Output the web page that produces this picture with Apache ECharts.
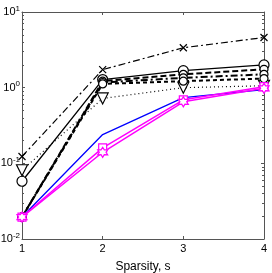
<!DOCTYPE html>
<html><head><meta charset="utf-8">
<script src="https://cdn.jsdelivr.net/npm/echarts@6/dist/echarts.min.js"></script>
<style>html,body{margin:0;padding:0;background:#fff}#c{width:272px;height:273px}</style>
</head><body><div id="c"></div>
<script>
const sparsity = [1, 2, 3, 4];
const xTicks = ['1', '2', '3', '4'];
const serX = [0.123, 1.73, 3.37, 4.6];
const serCircleSolid = [0.058, 1.28, 1.68, 2.0];
const serTriDotted = [0.081, 0.72, 1.0, 1.06];
const serDashA = [0.0195, 1.22, 1.5, 1.75];
const serDashDotB = [0.0195, 1.17, 1.35, 1.5];
const serDashC = [0.0195, 1.12, 1.22, 1.32];
const serBlue = [0.0195, 0.24, 0.74, 0.94];
const serMagSquare = [0.0195, 0.16, 0.69, 1.03];
const serMagStar = [0.0195, 0.14, 0.65, 0.98];

const pts = a => a.map((v, i) => [sparsity[i], v]);
const font = 'Liberation Sans, Arial, sans-serif';
const XPATH = 'path://M0,0L10,10M10,0L0,10';
const STAR = 'path://M5,0L6.4,2.6L9.3,2.5L7.9,5L9.3,7.5L6.4,7.4L5,10L3.6,7.4L0.7,7.5L2.1,5L0.7,2.5L3.6,2.6Z';

function s(data, color, width, type, symbol, size, extra) {
  return Object.assign({
    type: 'line', data: pts(data), symbol: symbol || 'none', symbolSize: size || 8,
    lineStyle: {color: color, width: width, type: type},
    itemStyle: {color: '#fff', borderColor: color, borderWidth: 1.2},
    emphasis: {disabled: true}, animation: false, z: 3
  }, extra || {});
}

const chart = echarts.init(document.getElementById('c'), null, {renderer: 'canvas'});
chart.setOption({
  animation: false,
  grid: {left: 22, right: 8, top: 12, bottom: 34, containLabel: false, outerBoundsMode: 'none'},
  xAxis: [{
    type: 'value', min: 1, max: 4, interval: 1,
    name: 'Sparsity, s', nameLocation: 'middle', nameGap: 22,
    nameTextStyle: {fontFamily: font, fontSize: 12, color: '#000'},
    axisLine: {lineStyle: {color: '#555', width: 1}},
    axisTick: {inside: true, length: 3, lineStyle: {color: '#555'}},
    axisLabel: {fontFamily: font, fontSize: 11, color: '#000', margin: 4,
      formatter: v => xTicks[v - 1]},
    splitLine: {show: false}
  }, {
    type: 'value', min: 1, max: 4, interval: 1, position: 'top',
    axisLine: {lineStyle: {color: '#555', width: 1}},
    axisTick: {inside: true, length: 3, lineStyle: {color: '#555'}},
    axisLabel: {show: false}, splitLine: {show: false}
  }],
  yAxis: [{
    type: 'log', logBase: 10, min: 0.01, max: 10,
    axisLine: {show: true, lineStyle: {color: '#555', width: 1}},
    axisTick: {show: true, inside: true, length: 3, lineStyle: {color: '#555'}},
    minorTick: {show: true, splitNumber: 9, length: 2, lineStyle: {color: '#555'}},
    axisLabel: {fontFamily: font, fontSize: 11, color: '#000', margin: 2,
      formatter: v => '{b|10}{s|' + Math.round(Math.log10(v)) + '}',
      rich: {b: {fontSize: 11, fontFamily: font, color: '#000'},
             s: {fontSize: 8, fontFamily: font, color: '#000', padding: [0, 0, 7, 0]}}},
    splitLine: {show: false}
  }, {
    type: 'log', logBase: 10, min: 0.01, max: 10, position: 'right',
    axisLine: {show: true, lineStyle: {color: '#555', width: 1}},
    axisTick: {show: true, inside: true, length: 3, lineStyle: {color: '#555'}},
    minorTick: {show: true, splitNumber: 9, length: 2, lineStyle: {color: '#555'}},
    axisLabel: {show: false}, splitLine: {show: false}
  }],
  series: [
    s(serX, '#000', 1.2, [7, 3, 2, 3], XPATH, 7),
    s(serCircleSolid, '#000', 1.3, 'solid', 'circle', 10),
    s(serTriDotted, '#000', 1.2, [1, 3], 'triangle', 11, {symbolRotate: 180}),
    s(serDashA, '#000', 2, [6, 3], 'circle', 8),
    s(serDashDotB, '#000', 2, [7, 3, 2, 3], 'circle', 8),
    s(serDashC, '#000', 2, [4, 3], 'circle', 8),
    s(serBlue, '#0000ff', 1.3, 'solid', 'none'),
    s(serMagSquare, '#ff00ff', 1.5, 'solid', 'rect', 8),
    s(serMagStar, '#ff00ff', 1.5, 'solid', STAR, 10)
  ]
});
</script></body></html>
